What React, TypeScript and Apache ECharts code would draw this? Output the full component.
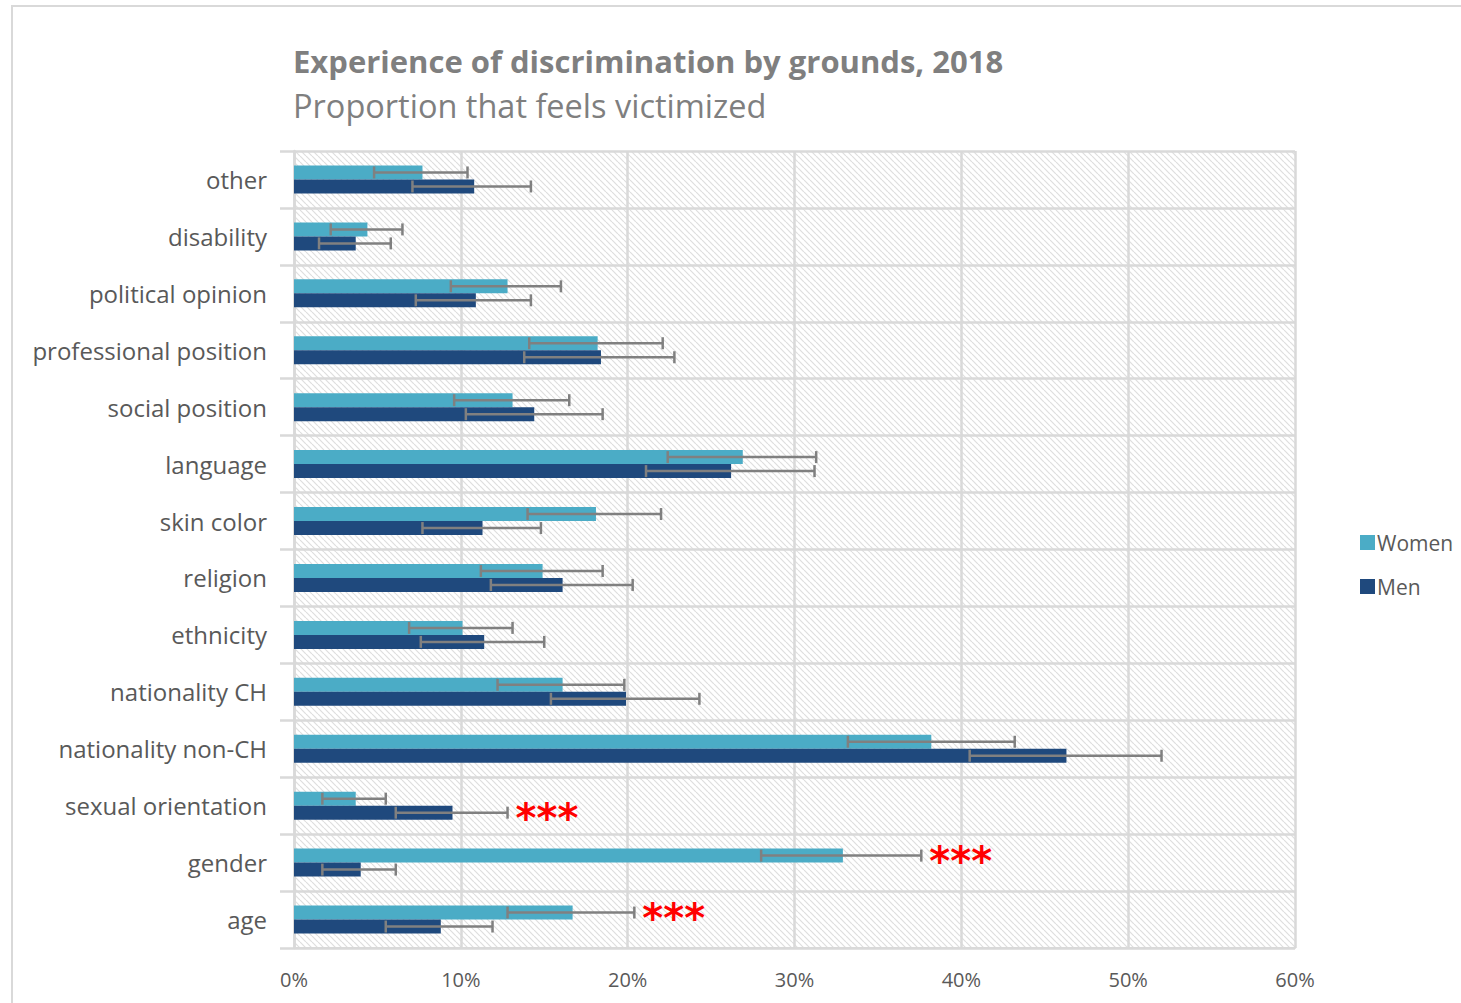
import React, { useEffect, useRef } from "react";
import * as echarts from "echarts";

const categories = [
  "age",
  "gender",
  "sexual orientation",
  "nationality non-CH",
  "nationality CH",
  "ethnicity",
  "religion",
  "skin color",
  "language",
  "social position",
  "professional position",
  "political opinion",
  "disability",
  "other",
];
const women = [16.7, 32.9, 3.7, 38.2, 16.1, 10.1, 14.9, 18.1, 26.9, 13.1, 18.2, 12.8, 4.4, 7.7];
const womenLow = [12.8, 28.0, 1.7, 33.2, 12.2, 6.9, 11.2, 14.0, 22.4, 9.6, 14.1, 9.4, 2.2, 4.8];
const womenHigh = [20.4, 37.6, 5.5, 43.2, 19.8, 13.1, 18.5, 22.0, 31.3, 16.5, 22.1, 16.0, 6.5, 10.4];
const men = [8.8, 4.0, 9.5, 46.3, 19.9, 11.4, 16.1, 11.3, 26.2, 14.4, 18.4, 10.9, 3.7, 10.8];
const menLow = [5.5, 1.7, 6.1, 40.5, 15.4, 7.6, 11.8, 7.7, 21.1, 10.3, 13.8, 7.3, 1.5, 7.1];
const menHigh = [11.9, 6.1, 12.8, 52.0, 24.3, 15.0, 20.3, 14.8, 31.2, 18.5, 22.8, 14.2, 5.8, 14.2];
const womenSig = ["***", "***", "", "", "", "", "", "", "", "", "", "", "", ""];
const menSig = ["", "", "***", "", "", "", "", "", "", "", "", "", "", ""];
const xTicks = { min: 0, max: 60, interval: 10 };

const FONT = "'Open Sans', 'Noto Sans', sans-serif";
const STAR_FONT = "'DejaVu Sans', sans-serif";
const WOMEN_C = "#4BACC6";
const MEN_C = "#1F497D";
const ERR_C = "#808080";
const GRID_C = "#d9d9d9";
const BAR_W = 14;
const CAP = 12;

function makeHatch() {
  const s = 6;
  const c = document.createElement("canvas");
  c.width = s;
  c.height = s;
  const ctx = c.getContext("2d")!;
  ctx.fillStyle = "#ffffff";
  ctx.fillRect(0, 0, s, s);
  ctx.strokeStyle = "#dedede";
  ctx.lineWidth = 1.2;
  for (const k of [-s, 0, s]) {
    ctx.beginPath();
    ctx.moveTo(k, 0);
    ctx.lineTo(k + s, s);
    ctx.stroke();
  }
  return { image: c, repeat: "repeat", imageWidth: s, imageHeight: s } as any;
}

function errorRender(offset: number, sig: string[]) {
  return (params: any, api: any) => {
    const cat = api.value(0);
    const lo = api.coord([api.value(1), cat]);
    const hi = api.coord([api.value(2), cat]);
    const y = lo[1] + offset;
    const st = { stroke: ERR_C, lineWidth: 2.5 };
    const children: any[] = [
      { type: "line", shape: { x1: lo[0], y1: y, x2: hi[0], y2: y }, style: st },
      { type: "line", shape: { x1: lo[0], y1: y - CAP / 2, x2: lo[0], y2: y + CAP / 2 }, style: st },
      { type: "line", shape: { x1: hi[0], y1: y - CAP / 2, x2: hi[0], y2: y + CAP / 2 }, style: st },
    ];
    const s = sig[params.dataIndex];
    if (s) {
      children.push({
        type: "text",
        x: hi[0] + 8,
        y: y + 5,
        style: {
          text: s,
          fill: "#ff0000",
          font: `bold 40px ${STAR_FONT}`,
          verticalAlign: "middle",
          align: "left",
        },
      });
    }
    return { type: "group", children };
  };
}

export default function App() {
  const ref = useRef<HTMLDivElement>(null);
  useEffect(() => {
    if (!ref.current) return;
    const chart = echarts.init(ref.current, undefined, { renderer: "svg" });
    const womenErr = categories.map((_, i) => [i, womenLow[i], womenHigh[i]]);
    const menErr = categories.map((_, i) => [i, menLow[i], menHigh[i]]);
    chart.setOption({
      animation: false,
      backgroundColor: "#ffffff",
      title: {
        text: "Experience of discrimination by grounds, 2018",
        subtext: "Proportion that feels victimized",
        left: 288,
        top: 40,
        itemGap: 13,
        textStyle: { fontFamily: FONT, fontSize: 31, fontWeight: "bold", color: "#7f7f7f" },
        subtextStyle: { fontFamily: FONT, fontSize: 32.5, color: "#7f7f7f" },
      },
      graphic: [
        {
          type: "rect",
          shape: { x: 12, y: 6, width: 1500, height: 1100 },
          style: { fill: "none", stroke: GRID_C, lineWidth: 2 },
          silent: true,
        },
      ],
      legend: {
        data: ["Women", "Men"],
        orient: "vertical",
        left: 1355,
        top: 527,
        itemWidth: 15,
        itemHeight: 15,
        itemGap: 23,
        icon: "rect",
        textStyle: { fontFamily: FONT, fontSize: 21, color: "#595959", padding: [0, 0, 0, -3] },
      },
      grid: {
        left: 294,
        right: 166,
        top: 151,
        bottom: 55,
        show: true,
        borderWidth: 0,
        backgroundColor: makeHatch(),
      },
      xAxis: {
        type: "value",
        min: xTicks.min,
        max: xTicks.max,
        interval: xTicks.interval,
        axisLine: { show: true, lineStyle: { color: GRID_C, width: 2 } },
        axisTick: { show: false },
        axisLabel: {
          formatter: "{value}%",
          fontFamily: FONT,
          fontSize: 20,
          color: "#595959",
          margin: 21,
        },
        splitLine: { show: true, lineStyle: { color: GRID_C, width: 2.5 } },
      },
      yAxis: {
        type: "category",
        data: categories,
        axisLine: { show: true, lineStyle: { color: GRID_C, width: 2.5 } },
        axisTick: { show: true, length: 14, lineStyle: { color: GRID_C, width: 2.5 } },
        axisLabel: {
          fontFamily: FONT,
          fontSize: 24,
          color: "#595959",
          margin: 27,
        },
        splitLine: { show: true, lineStyle: { color: GRID_C, width: 2.5 } },
      },
      series: [
        {
          name: "Women",
          type: "bar",
          data: women,
          barWidth: BAR_W,
          barGap: "0%",
          itemStyle: { color: WOMEN_C },
        },
        {
          name: "Men",
          type: "bar",
          data: men,
          barWidth: BAR_W,
          barGap: "0%",
          itemStyle: { color: MEN_C },
        },
        {
          name: "Women error",
          type: "custom",
          data: womenErr,
          encode: { x: [1, 2], y: 0 },
          renderItem: errorRender(-BAR_W / 2, womenSig),
          z: 5,
          silent: true,
        },
        {
          name: "Men error",
          type: "custom",
          data: menErr,
          encode: { x: [1, 2], y: 0 },
          renderItem: errorRender(BAR_W / 2, menSig),
          z: 5,
          silent: true,
        },
      ],
    });
    return () => chart.dispose();
  }, []);
  return (
    <div
      ref={ref}
      style={{ position: "absolute", left: 0, top: 0, width: 1461, height: 1003 }}
    />
  );
}
